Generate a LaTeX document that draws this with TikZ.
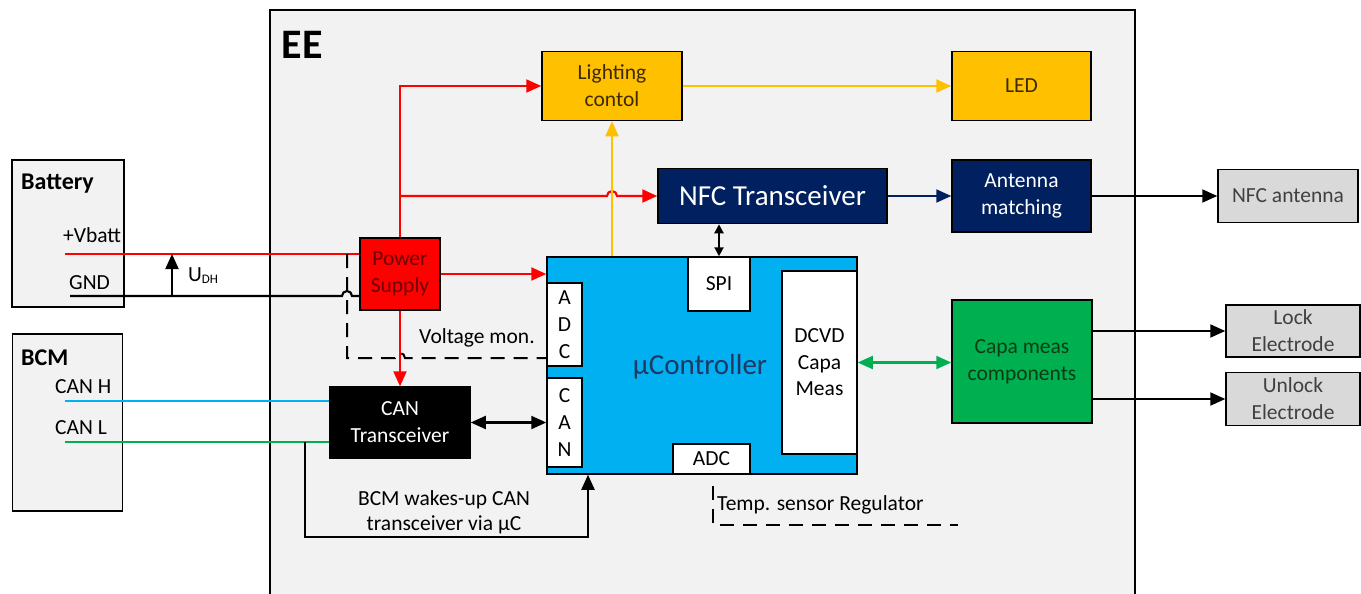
\documentclass[tikz,border=0pt]{standalone}
\usepackage{fontspec}
\setmainfont{Carlito}
\usetikzlibrary{arrows.meta}
\definecolor{eebg}{HTML}{F2F2F2}
\definecolor{pred}{HTML}{FF0000}
\definecolor{pyel}{HTML}{FFC000}
\definecolor{pnavy}{HTML}{002060}
\definecolor{pcyan}{HTML}{00B0F0}
\definecolor{pgreen}{HTML}{00B050}
\definecolor{pgrey}{HTML}{D9D9D9}
\definecolor{mctext}{HTML}{1F3864}
\definecolor{pstext}{HTML}{6E0000}
\definecolor{yltext}{HTML}{3C2A00}
\definecolor{grtext}{HTML}{0A3C14}
\definecolor{gytext}{HTML}{404040}
\tikzset{
  txt/.style={font=\fontsize{21.5}{27}\selectfont, inner sep=0pt, align=center},
  blk/.style={txt, draw=black, line width=1.5pt},
  conn/.style={line width=2.1pt},
  tipA/.tip={Triangle[length=15pt,width=13pt]},
  tipS/.tip={Triangle[length=9pt,width=9pt]},
  dsh/.style={line width=2pt, dash pattern=on 14pt off 9pt},
}
\begin{document}
\begin{tikzpicture}[x=1pt,y=-1pt]
\useasboundingbox (0,0) rectangle (1361,594);
% EE container
\fill[eebg] (270,10) rectangle (1135,600);
\draw[line width=1.8pt] (270,600) -- (270,10) -- (1135,10) -- (1135,600);
\node[font=\fontsize{42}{42}\selectfont\bfseries, inner sep=0pt] (ee) at (302,45) {EE};

% external boxes
\node[blk, fill=eebg, minimum width=112pt, minimum height=147pt] (bat) at (68,233.5) {};
\node[blk, fill=eebg, minimum width=110pt, minimum height=177pt] (bcm) at (67.5,422.5) {};
\node[txt, font=\fontsize{24}{24}\selectfont\bfseries, anchor=west] (batl) at (21,184) {Battery};
\node[txt, font=\fontsize{24}{24}\selectfont\bfseries, anchor=west] (bcml) at (21,358) {BCM};
\node[txt, anchor=west] (vbl) at (63,235) {+Vbatt};
\node[txt, anchor=west] (gndl) at (69,283) {GND};
\node[txt, anchor=west] (chl) at (55,387) {CAN H};
\node[txt, anchor=west] (cll) at (55,428) {CAN L};

% internal blocks
\node[blk, fill=pred, text=pstext, minimum width=80pt, minimum height=72pt] (ps) at (400,274) {Power\\Supply};
\node[blk, fill=pyel, text=yltext, minimum width=140pt, minimum height=69pt] (lc) at (612,86) {Lighting\\contol};
\node[blk, fill=pyel, text=yltext, minimum width=139pt, minimum height=69pt] (led) at (1021.5,86) {LED};
\node[blk, fill=pnavy, text=white, font=\fontsize{29}{29}\selectfont, minimum width=229pt, minimum height=55pt] (nfc) at (772.5,196) {NFC Transceiver};
\node[blk, fill=pnavy, text=white, minimum width=139pt, minimum height=72pt] (am) at (1021.5,196) {Antenna\\matching};
\node[blk, fill=pgrey, text=gytext, minimum width=140pt, minimum height=53pt] (nfca) at (1288,196) {NFC antenna};
\node[blk, fill=pgreen, text=grtext, minimum width=140pt, minimum height=123pt] (capa) at (1022,361.5) {Capa meas\\components};
\node[blk, fill=pgrey, text=gytext, minimum width=134pt, minimum height=52pt] (lock) at (1293,331) {Lock\\Electrode};
\node[blk, fill=pgrey, text=gytext, minimum width=134pt, minimum height=53pt] (unlock) at (1293,399) {Unlock\\Electrode};
\node[blk, fill=black, text=white, minimum width=140pt, minimum height=71pt] (cant) at (400,422.5) {CAN\\Transceiver};

% microcontroller
\node[blk, fill=pcyan, minimum width=310pt, minimum height=217pt] (mc) at (702,365.5) {};
\node[txt, font=\fontsize{29}{29}\selectfont, text=mctext] (mcl) at (700,367) {µController};
\node[blk, fill=white, minimum width=62pt, minimum height=54pt] (spi) at (719,284) {SPI};
\node[blk, fill=white, minimum width=35pt, minimum height=83pt] (adc) at (564.5,324.5) {A\\D\\C};
\node[blk, fill=white, minimum width=35pt, minimum height=89pt] (can) at (564.5,422.5) {C\\A\\N};
\node[blk, fill=white, font=\fontsize{21.5}{26.5}\selectfont, minimum width=75pt, minimum height=183pt] (dcvd) at (819.5,362.5) {DCVD\\Capa\\Meas};
\node[blk, fill=white, minimum width=77pt, minimum height=30pt] (adcb) at (711.5,459) {ADC};

% labels
\node[txt, anchor=west] (udh) at (188,276) {U{\fontsize{13}{13}\selectfont\raisebox{-2pt}{DH}}};
\node[txt, anchor=west] (vmon) at (419,338) {Voltage mon.};
\node[txt, font=\fontsize{21.5}{25}\selectfont] (wkl) at (444,512) {BCM wakes-up CAN\\transceiver via µC};
\node[txt, anchor=west] (tmp) at (717,505) {Temp. sensor Regulator};

% coordinates
\coordinate (vbs) at (65,254);
\coordinate (gns) at (70,296);
\coordinate (udhb) at (172,296);
\coordinate (udht) at (172,254);
\coordinate (vm1) at (347,254);
\coordinate (vm2) at (347,358);
\coordinate (chs) at (65,401);
\coordinate (cls) at (65,442);
\coordinate (wk1) at (305,442);
\coordinate (wk2) at (305,537);
\coordinate (wk3) at (588,537);
\coordinate (ts1) at (713,486);
\coordinate (ts2) at (713,525);
\coordinate (ts3) at (958,525);

% battery lines
\draw[conn, pred] (vbs) -- (vbs -| ps.west);
\draw[conn] (gns) -- (342,296) arc[start angle=180,end angle=0,radius=5pt] -- (gns -| ps.west);
\draw[conn, -{tipA}] (udhb) -- (udht);

% voltage monitor dashed
\draw[dsh] (vm1) -- (vm2) -- (395,358) arc[start angle=180,end angle=0,radius=5pt] -- (vm2 -| adc.west);

% red supply lines
\draw[conn, pred, -{tipA}] (ps.north) -- (ps.north |- lc.west) -- (lc.west);
\draw[conn, pred, -{tipA}] (ps.north |- nfc.west) -- ([xshift=-5pt]lc.south |- nfc.west) arc[start angle=180,end angle=0,radius=5pt] -- (nfc.west);
\draw[conn, pred, -{tipA}] (ps.east) -- (ps.east -| mc.west);
\draw[conn, pred, -{tipA}] (ps.south) -- (cant.north);

% yellow
\draw[conn, pyel, -{tipA}] (lc.south |- mc.north) -- (lc.south);
\draw[conn, pyel, -{tipA}] (lc.east) -- (led.west);

% navy / black
\draw[conn, pnavy, -{tipA}] (nfc.east) -- (am.west);
\draw[conn, -{tipA}] (am.east) -- (nfca.west);
\draw[conn, {tipS}-{tipS}] (spi.north |- nfc.south) -- (spi.north);
\draw[conn, pgreen, {tipA}-{tipA}] (dcvd.east) -- (dcvd.east -| capa.west);
\draw[conn, -{tipA}] (capa.east |- lock.west) -- (lock.west);
\draw[conn, -{tipA}] (capa.east |- unlock.west) -- (unlock.west);

% CAN
\draw[conn, pcyan] (chs) -- (chs -| cant.west);
\draw[conn, pgreen] (cls) -- (cls -| cant.west);
\draw[conn, {tipA}-{tipA}] (cant.east) -- (can.west);
\draw[conn, -{tipA}] (wk1) -- (wk2) -- (wk3) -- (wk3 |- mc.south);

% temp sensor dashed
\draw[dsh] (ts1) -- (ts2) -- (ts3);
\end{tikzpicture}
\end{document}
